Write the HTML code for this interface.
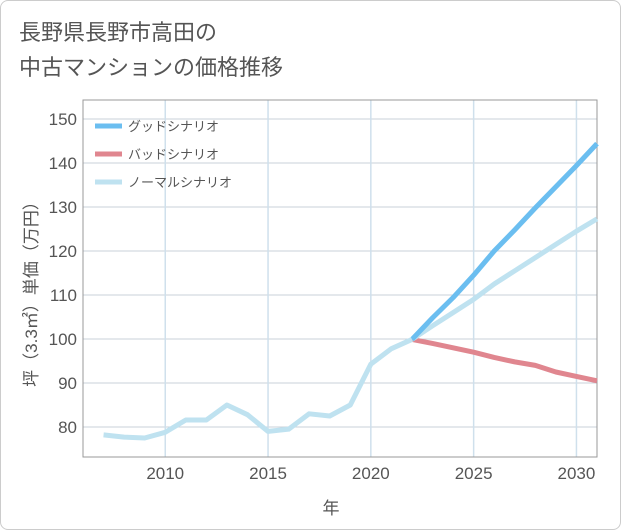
<!DOCTYPE html>
<html><head><meta charset="utf-8"><style>
body{margin:0;background:#fff;}
#wrap{position:relative;width:619px;height:528px;border:1px solid #ccc;border-radius:8px;background:#fff;overflow:hidden;font-family:"Liberation Sans","Noto Sans CJK JP",sans-serif;}
#title{position:absolute;left:18px;top:14px;font-size:22px;line-height:35px;color:#555;}
</style></head><body>
<div id="wrap">
<div id="title">長野県長野市高田の<br>中古マンションの価格推移</div>
<svg id="chart" width="621" height="530" style="position:absolute;left:-1px;top:-1px"></svg>
</div>
<script>
const years=[2007,2008,2009,2010,2011,2012,2013,2014,2015,2016,2017,2018,2019,2020,2021,2022];
const history=[78.2,77.7,77.5,78.8,81.6,81.6,85,82.8,79,79.5,83,82.5,85,94.3,97.8,99.9];
const fYears=[2022,2023,2024,2025,2026,2027,2028,2029,2030,2031];
const good=[99.9,104.8,109.4,114.5,120,124.8,129.8,134.6,139.4,144.4];
const bad=[99.9,99,98,97,95.8,94.8,94,92.5,91.5,90.5];
const normal=[99.9,103,106,109,112.5,115.5,118.5,121.5,124.5,127.3];
const yTicks=[80,90,100,110,120,130,140,150];
const xTicks=[2010,2015,2020,2025,2030];
const L=83,R=597,T=100,B=457;
const x=v=>L+(v-2006)*(R-L)/25;
const y=v=>119+(150-v)*4.4;
const svg=document.getElementById('chart');
const NS='http://www.w3.org/2000/svg';
function mk(t,a){const e=document.createElementNS(NS,t);for(const k in a)e.setAttribute(k,a[k]);svg.appendChild(e);return e;}
yTicks.forEach(v=>{const l=mk('line',{x1:L,x2:R,y1:y(v),y2:y(v),stroke:'#c8d0da','stroke-width':1});


const t=mk('text',{x:L-6,y:y(v)+6,'text-anchor':'end','font-size':17,fill:'#555'});t.textContent=v;

});
xTicks.forEach(v=>{const l=mk('line',{x1:x(v),x2:x(v),y1:T,y2:B,stroke:'#cfe0ec','stroke-width':1.5});


const t=mk('text',{x:x(v),y:B+22,'text-anchor':'middle','font-size':17,fill:'#555'});t.textContent=v;

});
const fr=mk('rect',{x:L,y:T,width:R-L,height:B-T,fill:'none',stroke:'#999','stroke-width':1});


function line(xs,vs,c,n){const p=mk('polyline',{points:xs.map((a,i)=>x(a)+','+y(vs[i])).join(' '),fill:'none',stroke:c,'stroke-width':5,'stroke-linejoin':'round'});

}
line(fYears,bad,'#e0868f','bad-scenario-line');
line(fYears,normal,'#bfe2f0','normal-scenario-line');
line(fYears,good,'#6bbef0','good-scenario-line');
line(years,history,'#bfe2f0','history-line');
[['グッドシナリオ','#6bbef0'],['バッドシナリオ','#e0868f'],['ノーマルシナリオ','#bfe2f0']].forEach((d,i)=>{
const yy=126+i*28;
const l=mk('line',{x1:95,x2:122,y1:yy,y2:yy,stroke:d[1],'stroke-width':5});


const t=mk('text',{x:128,y:yy+5,'font-size':13,fill:'#555'});t.textContent=d[0];

});
const xt=mk('text',{x:331,y:514,'text-anchor':'middle','font-size':17,fill:'#555'});xt.textContent='年';


const yt=mk('text',{x:0,y:0,'text-anchor':'middle','font-size':17,fill:'#555',transform:'translate(37,290) rotate(-90)'});yt.textContent='坪（3.3㎡）単価（万円）';


</script>
</body></html>
